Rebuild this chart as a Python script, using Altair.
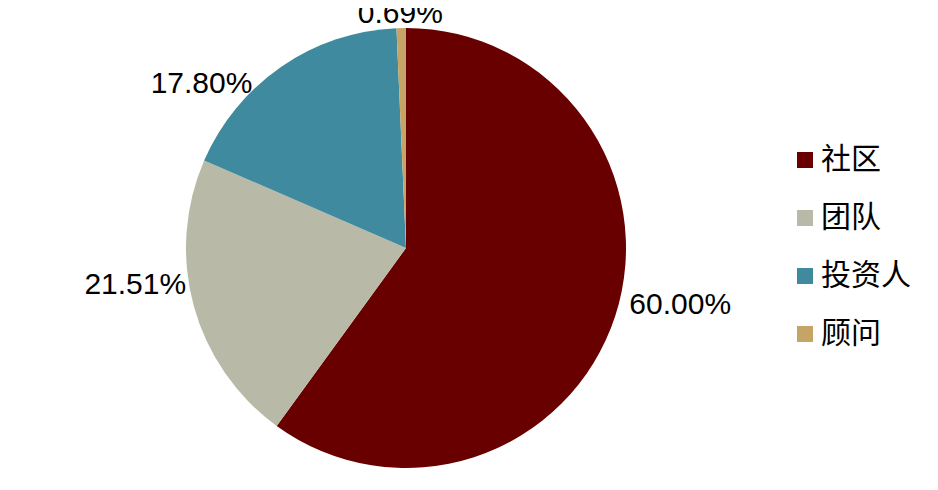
import altair as alt
import pandas as pd

categories = ["社区", "团队", "投资人", "顾问"]
values = [60.00, 21.51, 17.80, 0.69]
labels = ["60.00%", "21.51%", "17.80%", "0.69%"]
colors = ["#680000", "#B9B9A8", "#3F8A9E", "#C6A465"]

df = pd.DataFrame({"cat": categories, "value": values, "label": labels,
                   "order": list(range(len(categories)))})

theta_scale = alt.Scale(domain=[0, 100], range=[0, 6.283185307179586])
CX, CY = 398, 240

base = alt.Chart(df).transform_stack(
    stack="value", groupby=[], as_=["v0", "v1"], sort=[alt.SortField("order")]
).transform_calculate(mid="(datum.v0 + datum.v1) / 2")

pie = base.mark_arc(outerRadius=220).encode(
    theta=alt.Theta("v0:Q", scale=theta_scale),
    theta2="v1:Q",
    color=alt.Color(
        "cat:N",
        scale=alt.Scale(domain=categories, range=colors),
        legend=alt.Legend(
            title=None, orient="none", legendX=782, legendY=137,
            symbolType="square", symbolSize=256, symbolStrokeWidth=0,
            labelFontSize=30, labelFont="Noto Sans CJK SC", labelColor="#000000",
            rowPadding=28, labelOffset=1, padding=0,
        ),
    ),
    x=alt.value(CX),
    y=alt.value(CY),
)

label_offsets = {"社区": (25, -24), "团队": (-18, -32), "投资人": (-56, 52), "顾问": (0, 28)}

layers = [pie]
for cat, (dx, dy) in label_offsets.items():
    layers.append(
        base.transform_filter(alt.datum.cat == cat).mark_text(
            radius=262, dx=dx, dy=dy, fontSize=30, font="Liberation Sans",
            color="#000000", baseline="middle", align="center",
        ).encode(
            theta=alt.Theta("mid:Q", scale=theta_scale),
            text="label:N",
            x=alt.value(CX),
            y=alt.value(CY),
        )
    )

chart = alt.layer(*layers).properties(
    width=922, height=474,
    autosize=alt.AutoSizeParams(type="none"),
    padding=0,
).configure_view(stroke=None)

chart.save("out.html", embed_options={"renderer": "svg", "actions": False})
